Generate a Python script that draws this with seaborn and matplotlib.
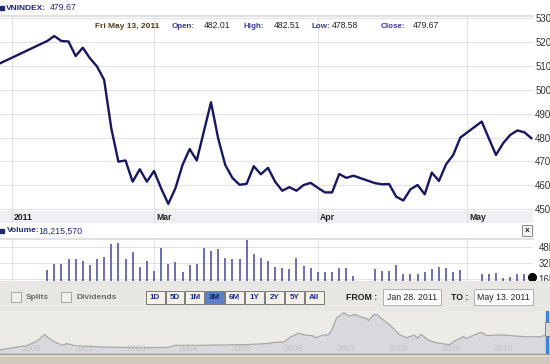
import numpy as np
import matplotlib
matplotlib.use("Agg")
import matplotlib.pyplot as plt
import seaborn as sns
from matplotlib.patches import Rectangle

# ---- values ----
dates = ['2011-01-28', '2011-02-08', '2011-02-09', '2011-02-10', '2011-02-11',
         '2011-02-14', '2011-02-15', '2011-02-16', '2011-02-17', '2011-02-18',
         '2011-02-21', '2011-02-22', '2011-02-23', '2011-02-24', '2011-02-25',
         '2011-02-28', '2011-03-01', '2011-03-02', '2011-03-03', '2011-03-04',
         '2011-03-07', '2011-03-08', '2011-03-09', '2011-03-10', '2011-03-11',
         '2011-03-14', '2011-03-15', '2011-03-16', '2011-03-17', '2011-03-18',
         '2011-03-21', '2011-03-22', '2011-03-23', '2011-03-24', '2011-03-25',
         '2011-03-28', '2011-03-29', '2011-03-30', '2011-03-31', '2011-04-01',
         '2011-04-04', '2011-04-05', '2011-04-06', '2011-04-07', '2011-04-08',
         '2011-04-13', '2011-04-14', '2011-04-15', '2011-04-18', '2011-04-19',
         '2011-04-20', '2011-04-21', '2011-04-22', '2011-04-25', '2011-04-26',
         '2011-04-27', '2011-04-28', '2011-04-29', '2011-05-04', '2011-05-05',
         '2011-05-06', '2011-05-09', '2011-05-10', '2011-05-11', '2011-05-12',
         '2011-05-13']
closes = [510.6, 520.5, 522.6, 520.5, 520.3, 514.2, 517.7, 513.3, 509.8, 504.2,
          483.9, 469.9, 470.4, 461.5, 466.7, 461.5, 466.0, 458.7, 452.2, 458.7,
          468.5, 475.2, 470.4, 482.6, 494.8, 479.7, 468.5, 463.1, 460.2, 460.6,
          468.0, 464.6, 467.3, 461.5, 457.7, 459.2, 457.7, 460.1, 461.0, 458.9,
          457.0, 457.0, 464.7, 463.1, 464.0, 460.9, 460.4, 460.5, 455.2, 453.6,
          458.3, 460.1, 456.2, 465.3, 461.8, 468.8, 472.7, 480.0, 486.7, 479.7,
          472.7, 477.6, 481.1, 483.0, 482.2, 479.67]
# volume in millions, for dates[1:] (the Jan 28 bar is off the left edge)
volumes = [24.4, 31.0, 31.0, 35.4, 35.4, 33.4, 29.4, 35.4, 37.7, 50.4,
           52.0, 36.0, 42.7, 27.7, 33.4, 23.4, 46.7, 30.4, 32.7, 22.4,
           29.4, 31.0, 46.7, 43.7, 45.4, 37.0, 36.0, 35.4, 54.4, 41.0,
           37.0, 33.4, 27.7, 26.7, 25.4, 36.7, 28.4, 26.7, 22.7, 22.7,
           22.7, 26.7, 26.7, 18.7, 25.4, 23.4, 23.4, 29.4, 21.0, 20.4,
           21.0, 22.7, 26.0, 27.7, 26.7, 22.7, 24.4, 20.4, 21.0, 22.0,
           17.0, 17.7, 20.4, 21.0, 18.2]
month_starts = ['2011-02-01', '2011-03-01', '2011-04-01', '2011-05-01']
month_labels = ['2011', 'Mar', 'Apr', 'May']

# long-range overview strip
ov_year = [2000.40, 2000.66, 2000.93, 2001.13, 2001.25, 2001.33, 2001.47, 2001.60,
           2001.67, 2001.80, 2002.00, 2002.41, 2003.08, 2003.61, 2003.74, 2004.15,
           2005.08, 2005.49, 2005.62, 2005.82, 2005.95, 2006.09, 2006.22, 2006.36,
           2006.42, 2006.56, 2006.66, 2006.73, 2006.82, 2006.96, 2007.06, 2007.16,
           2007.29, 2007.39, 2007.43, 2007.53, 2007.60, 2007.70, 2007.83, 2007.96,
           2008.03, 2008.16, 2008.30, 2008.36, 2008.43, 2008.57, 2008.70, 2008.83,
           2008.97, 2009.10, 2009.24, 2009.30, 2009.44, 2009.57, 2009.70, 2009.84,
           2010.04, 2010.17, 2010.44, 2010.71, 2010.81, 2010.89]
ov_value = [119, 178, 246, 392, 557, 441, 324, 246, 295, 246, 217, 197, 178, 188,
            246, 246, 265, 295, 324, 343, 489, 587, 538, 518, 460, 538, 538, 684,
            1024, 1170, 1073, 1122, 1044, 1005, 946, 1122, 1102, 976, 830, 635,
            538, 460, 538, 441, 557, 392, 324, 295, 265, 392, 489, 441, 538, 616,
            518, 538, 538, 518, 489, 489, 538, 520]
ov_labels = ['2000', '2002', '2003', '2004', '2005', '2006', '2007', '2008', '2009', '2010']
range_buttons = ['1D', '5D', '1M', '3M', '6M', '1Y', '2Y', '5Y', 'All']

# positions on a weekday axis (holidays leave gaps)
start = np.datetime64('2011-01-28')
pos = np.busday_count(start, np.array(dates, dtype='datetime64[D]'))
first_days = np.busday_offset(np.array(month_starts, dtype='datetime64[D]'), 0, roll='forward')
month_pos = np.busday_count(start, first_days)

sns.set_theme(style='white')
plt.rcParams['font.family'] = ['Liberation Sans', 'DejaVu Sans']

W, H = 550, 364
fig = plt.figure(figsize=(W / 100, H / 100), dpi=100)
fig.patch.set_facecolor('white')


def box(x0, y0, x1, y1):
    return [x0 / W, 1 - y1 / H, (x1 - x0) / W, (y1 - y0) / H]


def panel(x0, y0, x1, y1, color):
    a = fig.add_axes(box(x0, y0, x1, y1))
    a.set_xlim(x0, x1)
    a.set_ylim(y1, y0)
    a.set_facecolor(color)
    a.set_xticks([])
    a.set_yticks([])
    for s in a.spines.values():
        s.set_visible(False)
    return a


def ptext(x, y, s, **kw):
    kw.setdefault('va', 'center')
    fig.text(x / W, 1 - y / H, s, **kw)


NAVY = '#1f2a70'
XMIN, XMAX = 0.38, 75.2

# ---- main price chart ----
ax = fig.add_axes(box(0, 16, 533, 211))
sns.lineplot(x=pos, y=closes, ax=ax, color='#17175e', linewidth=1.7)
ax.set_xlim(XMIN, XMAX)
ax.set_ylim(449.2, 531)
ax.set_yticks(range(450, 531, 10))
ax.yaxis.tick_right()
ax.tick_params(axis='y', length=0, pad=1.5, labelsize=7, labelcolor='#333333')
ax.set_xticks(month_pos)
ax.set_xticklabels([])
ax.tick_params(axis='x', length=0)
ax.grid(True, color='#e3e3e3', lw=0.8)
for side in ['left', 'right', 'bottom']:
    ax.spines[side].set_visible(False)
ax.spines['top'].set_color('#dcdcdc')
ax.set_xlabel('')
ax.set_ylabel('')

# date strip under the price chart
band = fig.add_axes(box(0, 211, 533, 223))
band.set_xlim(XMIN, XMAX)
band.set_ylim(0, 1)
band.set_facecolor('#eef0f4')
band.set_xticks([])
band.set_yticks([])
for s in band.spines.values():
    s.set_visible(False)
for p, lbl in zip(month_pos, month_labels):
    band.axvline(p, color='#dcdde2', lw=0.8)
    band.annotate(lbl, (p, 0.45), xytext=(2, 0), textcoords='offset pixels',
                  ha='left', va='center', fontsize=6.2, fontweight='bold', color='#222222')

# header + OHLC row
fig.add_artist(Rectangle((0, 1 - 10 / H), 4 / W, 4 / H, transform=fig.transFigure,
                         color=NAVY))
ptext(6, 8, 'VNINDEX:', fontsize=6, fontweight='bold', color=NAVY)
ptext(49.5, 8, '479.67', fontsize=6.3, color=NAVY)
ptext(95, 26, 'Fri May 13, 2011', fontsize=6, fontweight='bold', color='#4d3d1a')
for x, s in [(172, 'Open:'), (243, 'High:'), (311, 'Low:'), (381, 'Close:')]:
    ptext(x, 26, s, fontsize=5.8, fontweight='bold', color='#3b3b96')
for x, s in [(204, '482.01'), (274, '482.51'), (332, '478.58'), (413, '479.67')]:
    ptext(x, 26, s, fontsize=6.2, color='#222222')

# ---- volume ----
fig.add_artist(Rectangle((0, 1 - 233 / H), 4 / W, 4 / H, transform=fig.transFigure,
                         color=NAVY))
ptext(7, 231, 'Volume:', fontsize=6, fontweight='bold', color=NAVY)
ptext(38.5, 231, '18,215,570', fontsize=6.3, color=NAVY)
fig.add_artist(Rectangle((522 / W, 1 - 236 / H), 10 / W, 11 / H, transform=fig.transFigure,
                         facecolor='#f2f2f2', edgecolor='#888888', lw=0.7))
ptext(527, 230.5, 'x', fontsize=6, fontweight='bold', color='#222222', ha='center')

axv = fig.add_axes(box(0, 239, 533, 280.5))
VMIN = 14.2
axv.vlines(pos[1:], VMIN, volumes, color='#55559f', lw=1.2)
axv.plot(pos[-1], volumes[-1], 'o', color='black', ms=5.5, clip_on=False)
axv.set_xlim(XMIN, XMAX)
axv.set_ylim(VMIN, 55.7)
axv.set_yticks([16, 32, 48])
axv.set_yticklabels(['16M', '32M', '48M'])
axv.yaxis.tick_right()
axv.tick_params(axis='y', length=0, pad=4, labelsize=7, labelcolor='#333333')
axv.set_xticks(month_pos)
axv.set_xticklabels([])
axv.tick_params(axis='x', length=0)
axv.grid(True, color='#e3e3e3', lw=0.8)
axv.set_axisbelow(True)
for side in ['left', 'right', 'bottom']:
    axv.spines[side].set_visible(False)
axv.spines['top'].set_color('#dcdcdc')

# ---- control bar ----
panel(0, 280.5, 550, 284, '#e6e6e6')
ctl = panel(0, 284, 550, 311, '#e8e7e3')
for x0, lbl in [(10.5, 'Splits'), (61.4, 'Dividends')]:
    ctl.add_patch(Rectangle((x0, 291.5), 10, 10.5, facecolor='#f1f0ec',
                            edgecolor='#a8a8a8', lw=0.7))
    ctl.text(x0 + 15.5, 297, lbl, fontsize=6, fontweight='bold', color='#6b6b6b', va='center')
bw = 19.9
for i, lbl in enumerate(range_buttons):
    x0 = 145.6 + i * bw
    on = lbl == '3M'
    ctl.add_patch(Rectangle((x0, 291), bw - 1, 13, facecolor='#5d7fcc' if on else '#f3f1ea',
                            edgecolor='#7a7a7a', lw=0.7))
    ctl.text(x0 + (bw - 1) / 2, 297.8, lbl, fontsize=5.8, fontweight='bold',
             color='#0d1c66' if on else '#1c2c8c', ha='center', va='center')
ctl.text(345.6, 297, 'FROM :', fontsize=6.3, fontweight='bold', color='#222222', va='center')
ctl.text(451, 297, 'TO :', fontsize=6.3, fontweight='bold', color='#222222', va='center')
for x0, x1, s in [(383, 441.4, 'Jan 28. 2011'), (474.4, 532.6, 'May 13. 2011')]:
    ctl.add_patch(Rectangle((x0, 289), x1 - x0, 15.5, facecolor='white',
                            edgecolor='#b0b0b0', lw=0.7))
    ctl.text((x0 + x1) / 2, 297, s, fontsize=6.3, color='#222222', ha='center', va='center')

# ---- overview strip ----
axo = fig.add_axes(box(0, 311, 550, 353))
axo.fill_between(ov_year, ov_value, 0, color='#d7d9dc', lw=0)
sns.lineplot(x=ov_year, y=ov_value, ax=axo, color='#a8a8a8', linewidth=0.9)
axo.set_xlim(2000.40, 2010.89)
axo.set_ylim(28, 1219)
axo.set_facecolor('#ecebe7')
axo.set_xticks([])
axo.set_yticks([])
axo.set_xlabel('')
axo.set_ylabel('')
for s in axo.spines.values():
    s.set_visible(False)
for k, lbl in enumerate(ov_labels):
    axo.text(2001 + k, 0.1, lbl, transform=axo.get_xaxis_transform(), fontsize=6.3,
             color='#c4c4c4', ha='center', va='center')
fig.add_artist(Rectangle((546 / W, 1 - 353 / H), 1.5 / W, 42 / H, transform=fig.transFigure,
                         color='#3d83e0'))
fig.add_artist(Rectangle((545 / W, 1 - 336 / H), 5 / W, 14 / H, transform=fig.transFigure,
                         facecolor='#d9d9d9', edgecolor='#777777', lw=0.6))

# bottom scroll bar
bot = panel(0, 353, 550, 364, '#d0c9bc')
bot.axhline(353.6, color='#9d968a', lw=0.8)
bot.axhline(356, color='#e0dbd1', lw=1.5)

fig.savefig('out.png', dpi=100)
